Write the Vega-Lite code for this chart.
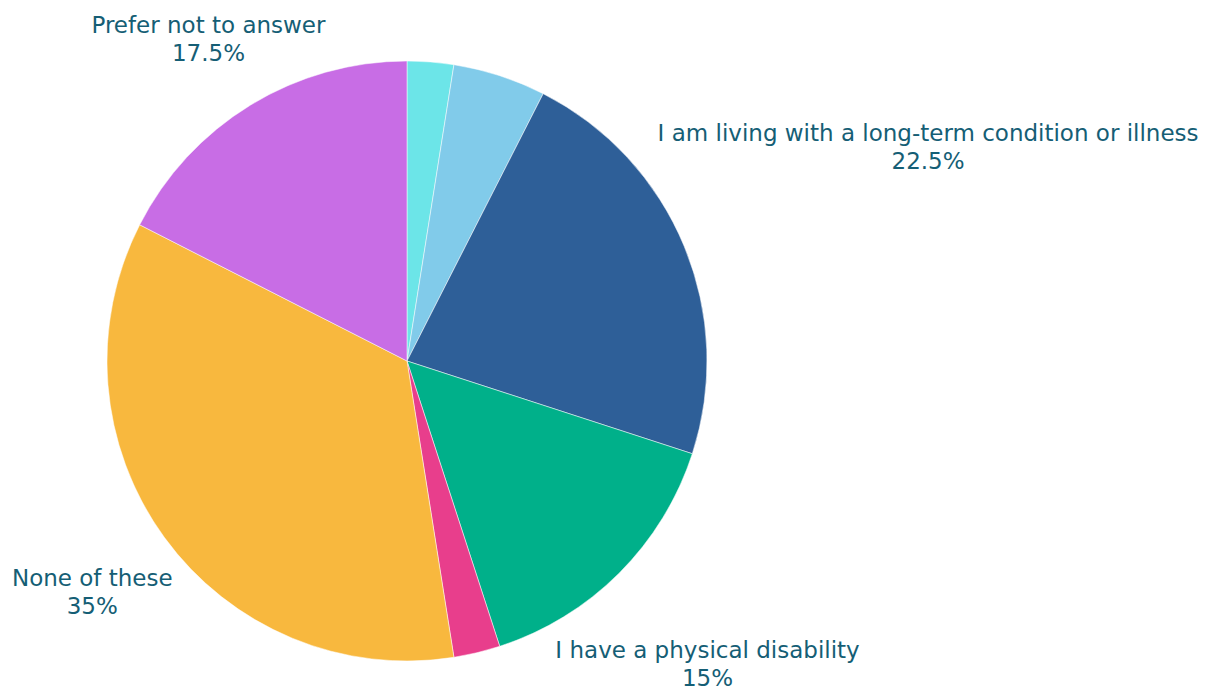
{
  "$schema": "https://vega.github.io/schema/vega-lite/v6.json",
  "width": 600,
  "height": 600,
  "autosize": {"type": "none"},
  "padding": {"left": 107, "top": 61, "right": 508, "bottom": 25},
  "background": "white",
  "config": {"view": {"stroke": null}},
  "data": {
    "values": [
      {"order": 1, "category": "I have a learning disability", "pct": 2.5},
      {"order": 2, "category": "I have a mental health condition", "pct": 5},
      {"order": 3, "category": "I am living with a long-term condition or illness", "pct": 22.5},
      {"order": 4, "category": "I have a physical disability", "pct": 15},
      {"order": 5, "category": "I have a sensory impairment", "pct": 2.5},
      {"order": 6, "category": "None of these", "pct": 35},
      {"order": 7, "category": "Prefer not to answer", "pct": 17.5}
    ]
  },
  "transform": [
    {"window": [{"op": "sum", "field": "pct", "as": "end"}], "sort": [{"field": "order"}], "frame": [null, 0]},
    {"calculate": "datum.end - datum.pct", "as": "start"},
    {"calculate": "datum.end - datum.pct / 2", "as": "mid"},
    {"calculate": "[datum.category, datum.pct + '%']", "as": "label"}
  ],
  "layer": [
    {
      "mark": {"type": "arc", "stroke": "white", "strokeWidth": 0.5},
      "encoding": {
        "theta": {"field": "start", "type": "quantitative", "scale": {"domain": [0, 100]}},
        "theta2": {"field": "end"},
        "color": {
          "field": "category",
          "type": "nominal",
          "legend": null,
          "scale": {
            "domain": ["I have a learning disability", "I have a mental health condition", "I am living with a long-term condition or illness", "I have a physical disability", "I have a sensory impairment", "None of these", "Prefer not to answer"],
            "range": ["#6ce5e8", "#81cbea", "#2e5f98", "#00b08a", "#e83e8c", "#f8b83e", "#c86de5"]
          }
        }
      }
    },
    {
      "transform": [{"filter": "datum.order == 7"}],
      "mark": {"type": "text", "radius": 380, "dy": -11, "font": "DejaVu Sans", "fontSize": 23, "lineHeight": 28, "color": "#155e75", "align": "center", "baseline": "middle"},
      "encoding": {"theta": {"field": "mid", "type": "quantitative", "scale": {"domain": [0, 100]}}, "text": {"field": "label"}}
    },
    {
      "transform": [{"filter": "datum.order == 6"}],
      "mark": {"type": "text", "radius": 389, "dy": -11, "font": "DejaVu Sans", "fontSize": 23, "lineHeight": 28, "color": "#155e75", "align": "center", "baseline": "middle"},
      "encoding": {"theta": {"field": "mid", "type": "quantitative", "scale": {"domain": [0, 100]}}, "text": {"field": "label"}}
    },
    {
      "transform": [{"filter": "datum.order == 4"}],
      "mark": {"type": "text", "radius": 425, "dy": -11, "font": "DejaVu Sans", "fontSize": 23, "lineHeight": 28, "color": "#155e75", "align": "center", "baseline": "middle"},
      "encoding": {"theta": {"field": "mid", "type": "quantitative", "scale": {"domain": [0, 100]}}, "text": {"field": "label"}}
    },
    {
      "transform": [{"filter": "datum.order == 3"}],
      "mark": {"type": "text", "radius": 564, "dy": -11, "font": "DejaVu Sans", "fontSize": 23, "lineHeight": 28, "color": "#155e75", "align": "center", "baseline": "middle"},
      "encoding": {"theta": {"field": "mid", "type": "quantitative", "scale": {"domain": [0, 100]}}, "text": {"field": "label"}}
    }
  ]
}
